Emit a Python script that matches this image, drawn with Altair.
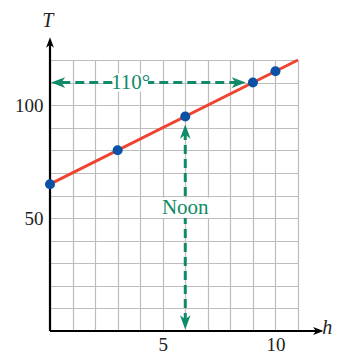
import altair as alt
import pandas as pd

# data
h_pts = [0, 3, 6, 9, 10]
T_pts = [65, 80, 95, 110, 115]
line_h = [0, 11]
line_T = [65, 120]
x_grid = list(range(0, 12))
y_grid = list(range(0, 121, 10))
x_labels = [5, 10]
y_labels = [50, 100]

RED = "#EE4430"
BLUE = "#0B52A6"
GREEN = "#108A68"
SERIF = "Liberation Serif"
ARROW = "M0,-1 L0.75,1 L0,0.45 L-0.75,1 Z"

xs = alt.Scale(domain=[0, 11], nice=False, zero=False)
ys = alt.Scale(domain=[0, 120], nice=False, zero=False)

xlab = " || ".join(f"datum.value == {v}" for v in x_labels)
ylab = " || ".join(f"datum.value == {v}" for v in y_labels)

x_axis = alt.Axis(values=x_grid, grid=True, ticks=False, domain=False, title=None,
                  labelExpr=f"({xlab}) ? datum.label : ''", labelFont=SERIF,
                  labelFontSize=19, labelColor="#222", labelPadding=4,
                  gridColor="#BDBDBD", gridWidth=1.2, gridOpacity=1, labelFlush=False)
y_axis = alt.Axis(values=y_grid, grid=True, ticks=False, domain=False, title=None,
                  labelExpr=f"({ylab}) ? datum.label : ''", labelFont=SERIF,
                  labelFontSize=19, labelColor="#222", labelPadding=7,
                  gridColor="#BDBDBD", gridWidth=1.2, gridOpacity=1)

pts = pd.DataFrame({"h": h_pts, "T": T_pts})
line_df = pd.DataFrame({"h": line_h, "T": line_T})

def X(f="h"):
    return alt.X(f"{f}:Q", scale=xs, axis=x_axis)

def Y(f="T"):
    return alt.Y(f"{f}:Q", scale=ys, axis=y_axis)

red_line = alt.Chart(line_df).mark_line(color=RED, strokeWidth=3).encode(x=X(), y=Y())

bg = pd.DataFrame({"h": [2.8, 4.85], "h2": [4.35, 7.15], "T": [106, 50], "T2": [114, 59]})
bg_layer = alt.Chart(bg).mark_rect(color="white").encode(
    x=X(), x2="h2", y=Y(), y2="T2")

# black axes
axes_df = pd.DataFrame({"h": [0, 0], "h2": [11.8, 0], "T": [0, 0], "T2": [0, 127]})
axes_layer = alt.Chart(axes_df).mark_rule(color="black", strokeWidth=2.2).encode(
    x=X(), x2="h2", y=Y(), y2="T2")
axarr = pd.DataFrame({"h": [11.9, 0], "T": [0, 127.8], "a": [90, 0]})
axarr_layer = alt.Chart(axarr).mark_point(shape=ARROW, filled=True, color="black",
                                           opacity=1, size=110).encode(
    x=X(), y=Y(), angle=alt.Angle("a:Q", scale=None))

# green dashed arrows
gl = pd.DataFrame({"h": [0.5, 6], "h2": [8.3, 6], "T": [110, 4], "T2": [110, 88]})
gl_layer = alt.Chart(gl).mark_rule(color=GREEN, strokeWidth=3, strokeDash=[9, 5]).encode(
    x=X(), x2="h2", y=Y(), y2="T2")
garr = pd.DataFrame({"h": [0.36, 8.37, 6, 6], "T": [110, 110, 3.8, 88.3], "a": [270, 90, 180, 0]})
garr_layer = alt.Chart(garr).mark_point(shape=ARROW, filled=True, color=GREEN,
                                         opacity=1, size=200).encode(
    x=X(), y=Y(), angle=alt.Angle("a:Q", scale=None))

labels = pd.DataFrame({"h": [3.58, 6.0], "T": [110, 54.4], "t": ["110°", "Noon"]})
lab_layer = alt.Chart(labels).mark_text(font=SERIF, fontSize=21, color=GREEN,
                                        baseline="middle", align="center").encode(
    x=X(), y=Y(), text="t:N")

dots = alt.Chart(pts).mark_circle(color=BLUE, size=100, opacity=1).encode(x=X(), y=Y())

titles = pd.DataFrame({"h": [-0.1, 12.3], "T": [137.3, 1.3], "t": ["T", "h"]})
title_layer = alt.Chart(titles).mark_text(font=SERIF, fontSize=20, fontStyle="italic",
                                          color="#222", baseline="middle", align="center").encode(
    x=X(), y=Y(), text="t:N")

chart = alt.layer(red_line, gl_layer, garr_layer, bg_layer, lab_layer, axes_layer,
                  axarr_layer, dots, title_layer).properties(
    width=248, height=271,
    autosize=alt.AutoSizeParams(type="none"),
    padding={"left": 42, "top": 52, "right": 35, "bottom": 25},
).configure_view(stroke=None)

chart.save("out.html", embed_options={"renderer": "svg", "actions": False})
